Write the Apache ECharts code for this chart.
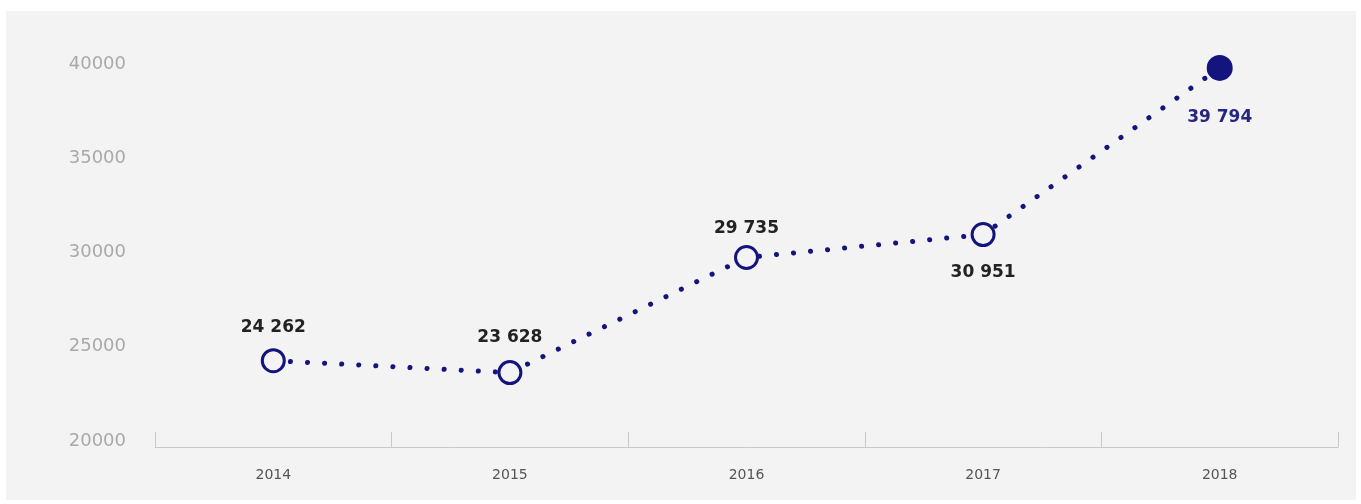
<!DOCTYPE html>
<html>
<head>
<meta charset="utf-8">
<script src="https://cdn.jsdelivr.net/npm/echarts@6/dist/echarts.min.js"></script>
<style>
html,body{margin:0;padding:0;background:#ffffff;}
#chart{width:1361px;height:504px;}
</style>
</head>
<body>
<div id="chart"></div>
<script>
// ---- data ----
var years = ['2014', '2015', '2016', '2017', '2018'];
var values = [24262, 23628, 29735, 30951, 39794];
var labelTexts = ['24 262', '23 628', '29 735', '30 951', '39 794'];
var yTicks = { min: 20000, max: 40000, step: 5000 };

// ---- styling ----
var navy = '#14147e';
var bg = '#f3f3f3';
var labelCfg = [
  { position: 'top', distance: 12 },
  { position: 'top', distance: 14 },
  { position: 'top', distance: 8 },
  { position: 'bottom', distance: 17 },
  { position: 'bottom', distance: 28 }
];

var seriesData = values.map(function (v, i) {
  var last = i === values.length - 1;
  return {
    value: v,
    symbolSize: last ? 26 : 22,
    itemStyle: last
      ? { color: navy, borderColor: navy, borderWidth: 0 }
      : { color: bg, borderColor: navy, borderWidth: 3 },
    label: {
      show: true,
      position: labelCfg[i].position,
      distance: labelCfg[i].distance,
      formatter: labelTexts[i],
      fontFamily: 'DejaVu Sans',
      fontWeight: 'bold',
      fontSize: 17,
      color: last ? '#262680' : '#222222'
    }
  };
});

var chart = echarts.init(document.getElementById('chart'), null, { renderer: 'canvas' });
chart.setOption({
  backgroundColor: '#ffffff',
  animation: false,
  graphic: [{
    type: 'rect',
    z: -10,
    silent: true,
    shape: { x: 6, y: 11, width: 1350, height: 489 },
    style: { fill: bg }
  }],
  grid: { left: 155, right: 23, top: 64, bottom: 63 },
  xAxis: {
    type: 'category',
    data: years,
    boundaryGap: true,
    offset: 6,
    axisLine: { show: true, lineStyle: { color: '#c9c9c9', width: 1 } },
    axisTick: { show: true, inside: true, length: 15, lineStyle: { color: '#c9c9c9' } },
    axisLabel: { color: '#555555', fontFamily: 'DejaVu Sans', fontSize: 14, margin: 21 },
    splitLine: { show: false }
  },
  yAxis: {
    type: 'value',
    min: yTicks.min,
    max: yTicks.max,
    interval: yTicks.step,
    axisLine: { show: false },
    axisTick: { show: false },
    splitLine: { show: false },
    axisLabel: {
      color: '#a9a9a9', fontFamily: 'DejaVu Sans', fontSize: 18, margin: 29,
      formatter: function (v) { return String(v); }
    }
  },
  series: [{
    type: 'line',
    data: seriesData,
    symbol: 'circle',
    showAllSymbol: true,
    z: 3,
    lineStyle: { color: navy, width: 5, type: [0.1, 17], cap: 'round' },
    emphasis: { disabled: true }
  }]
});
</script>
</body>
</html>
